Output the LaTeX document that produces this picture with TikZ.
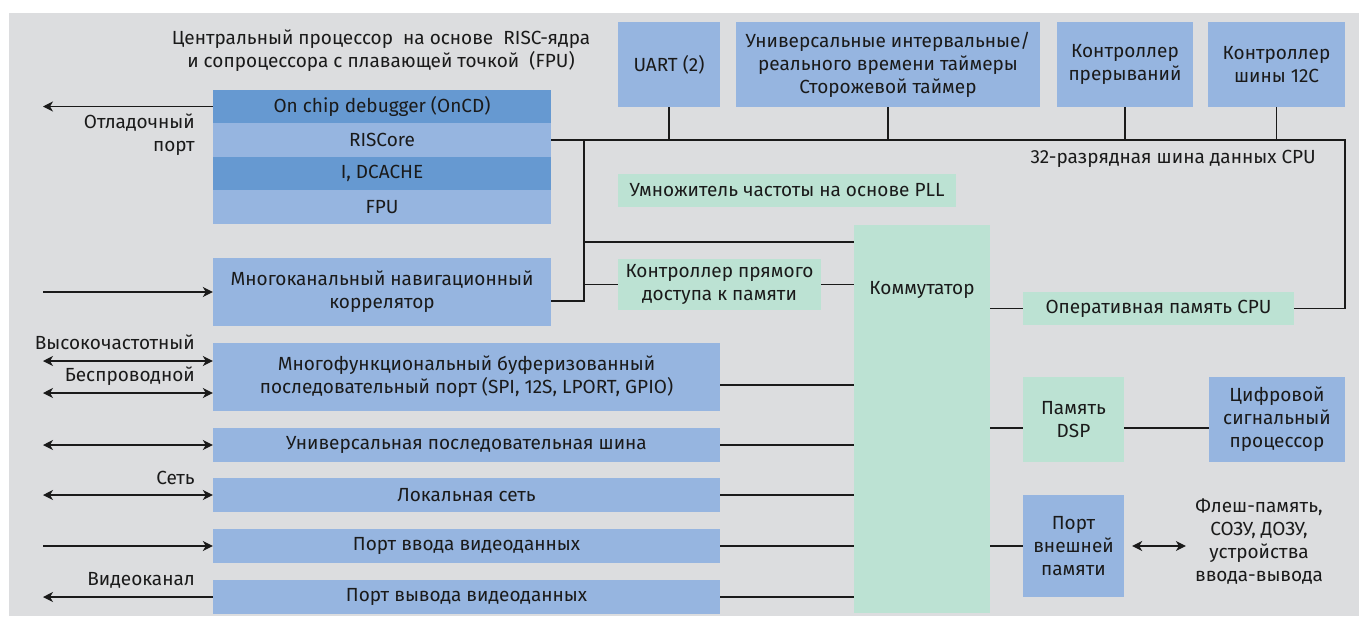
\documentclass[tikz,border=0pt]{standalone}
\usepackage{fontspec}
\setmainfont{Fira Sans}
\usetikzlibrary{arrows.meta}
\definecolor{bg}{HTML}{DCDDDF}
\definecolor{blueL}{HTML}{96B5E0}
\definecolor{blueD}{HTML}{6699D1}
\definecolor{mint}{HTML}{BCE2D3}
\definecolor{ink}{HTML}{1A1A1A}
\begin{document}
\begin{tikzpicture}[x=1pt,y=-1pt,
  blk/.style={inner sep=0pt, align=center, text=ink,
    font=\fontsize{19}{23}\selectfont},
  lb/.style={blk, fill=blueL},
  db/.style={blk, fill=blueD},
  gb/.style={blk, fill=mint},
  txt/.style={inner sep=0pt, text=ink, font=\fontsize{19}{23}\selectfont},
  wire/.style={draw=ink, line width=1.2pt},
  tipR/.style={wire, -{Stealth[length=10pt,width=10pt,inset=3pt]}},
  tipB/.style={wire, {Stealth[length=10pt,width=10pt,inset=3pt]}-{Stealth[length=10pt,width=10pt,inset=3pt]}}
]
\useasboundingbox (0,0) rectangle (1359,616);
\fill[white] (0,0) rectangle (1359,616);
\fill[bg] (9,13) rectangle (1359,616);

% CPU core stack
\node[db, minimum width=338pt, minimum height=33pt] (oncd) at (382,106.5) {On chip debugger (OnCD)};
\node[lb, minimum width=338pt, minimum height=34pt] (risc) at (382,140) {RISCore};
\node[db, minimum width=338pt, minimum height=33pt] (cache) at (382,173.5) {I, DCACHE};
\node[lb, minimum width=338pt, minimum height=34pt] (fpu) at (382,207) {FPU};
\node[txt, align=center] (title) at (381,51) {Центральный процессор\ \ на основе\ \ RISC-ядра\\и сопроцессора с плавающей точкой\ \ (FPU)};

% peripherals on the CPU bus
\node[lb, minimum width=102pt, minimum height=85pt] (uart) at (669,64.5) {UART (2)};
\node[lb, minimum width=304pt, minimum height=85pt] (timers) at (888,64.5) {Универсальные интервальные/\\реального времени таймеры\\Сторожевой таймер};
\node[lb, minimum width=136pt, minimum height=85pt] (irq) at (1125,64.5) {Контроллер\\прерываний};
\node[lb, minimum width=137pt, minimum height=85pt] (i2c) at (1276.5,64.5) {Контроллер\\шины 12C};
\node[txt, anchor=east] (buslbl) at (1316,159) {32-разрядная шина данных CPU};

\node[gb, minimum width=338pt, minimum height=33pt] (pll) at (787,190.5) {Умножитель частоты на основе PLL};
\node[gb, minimum width=136pt, minimum height=388pt,
  label={[txt, anchor=center, yshift=-65pt]north:Коммутатор}] (comm) at (922,419) {};
\node[gb, minimum width=203pt, minimum height=51pt] (dma) at (719.5,284.5) {Контроллер прямого\\доступа к памяти};
\node[lb, minimum width=338pt, minimum height=68pt] (corr) at (382,292) {Многоканальный навигационный\\коррелятор};
\node[gb, minimum width=271pt, minimum height=33pt] (ram) at (1158.5,308.5) {Оперативная память CPU};

% interface blocks
\node[lb, minimum width=507pt, minimum height=68pt] (mbsp) at (466.5,377) {Многофункциональный буферизованный\\последовательный порт (SPI, 12S, LPORT, GPIO)};
\node[lb, minimum width=507pt, minimum height=34pt] (usb) at (466.5,445) {Универсальная последовательная шина};
\node[lb, minimum width=507pt, minimum height=34pt] (lan) at (466.5,495) {Локальная сеть};
\node[lb, minimum width=507pt, minimum height=34pt] (vin) at (466.5,546) {Порт ввода видеоданных};
\node[lb, minimum width=507pt, minimum height=34pt] (vout) at (466.5,597) {Порт вывода видеоданных};

% DSP side
\node[gb, minimum width=101pt, minimum height=85pt] (dspmem) at (1073.5,419.5) {Память\\DSP};
\node[lb, minimum width=136pt, minimum height=85pt] (dsp) at (1277,419.5) {Цифровой\\сигнальный\\процессор};
\node[lb, minimum width=101pt, minimum height=102pt] (ext) at (1073.5,546) {Порт\\внешней\\памяти};
\node[txt, align=center] (flash) at (1259,542) {Флеш-память,\\СОЗУ, ДОЗУ,\\устройства\\ввода-вывода};

% left-side labels
\node[txt, anchor=east, align=right] (dbglbl) at (195,134.5) {Отладочный\\порт};
\node[txt, anchor=east] (rflbl) at (195,342) {Высокочастотный};
\node[txt, anchor=east] (wllbl) at (195,376) {Беспроводной};
\node[txt, anchor=east] (netlbl) at (195,478) {Сеть};
\node[txt, anchor=east] (vidlbl) at (195,580) {Видеоканал};

% junction points
\coordinate (busL) at (584,140);
\coordinate (busR) at (1345,140);
\coordinate (jcomm) at (584,242);
\coordinate (jcorr) at (584,301);
\coordinate (jmbsp) at (720,385);
\coordinate (jdsp) at (990,428);
\coordinate (dbgEnd) at (43,106.5);
\coordinate (corrIn) at (43,292);
\coordinate (rfEnd) at (43,361);
\coordinate (wlEnd) at (43,393);
\coordinate (usbEnd) at (43,445);
\coordinate (lanEnd) at (43,495);
\coordinate (vinEnd) at (43,546);
\coordinate (voutEnd) at (43,597);

% CPU data bus
\draw[wire] (risc.east) -- (busR) -- (busR |- ram.east) -- (ram.east);
\draw[wire] (uart.south) -- (uart.south |- busR);
\draw[wire] (timers.south) -- (timers.south |- busR);
\draw[wire] (irq.south) -- (irq.south |- busR);
\draw[wire] (i2c.south) -- (i2c.south |- busR);
\draw[wire] (busL) -- (jcorr) -- (corr.east |- jcorr);
\draw[wire] (jcomm) -- (comm.west |- jcomm);
\draw[wire] (busL |- dma.west) -- (dma.west);
\draw[wire] (dma.east) -- (comm.west |- dma.east);
\draw[wire] (comm.east |- ram.west) -- (ram.west);

% switch fabric links
\draw[wire] (jmbsp) -- (comm.west |- jmbsp);
\draw[wire] (usb.east) -- (comm.west |- usb.east);
\draw[wire] (lan.east) -- (comm.west |- lan.east);
\draw[wire] (vin.east) -- (comm.west |- vin.east);
\draw[wire] (vout.east) -- (comm.west |- vout.east);
\draw[wire] (jdsp) -- (dspmem.west |- jdsp);
\draw[wire] (dspmem.east |- jdsp) -- (dsp.west |- jdsp);
\draw[wire] (comm.east |- ext.west) -- (ext.west);
\draw[tipB] ([xshift=8pt]ext.east) -- ([xshift=-9pt]flash.west |- ext.east);

% external signals
\draw[tipR] (oncd.west) -- (dbgEnd);
\draw[tipR] (corrIn) -- (corr.west);
\draw[tipB] (rfEnd) -- (mbsp.west |- rfEnd);
\draw[tipB] (wlEnd) -- (mbsp.west |- wlEnd);
\draw[tipB] (usbEnd) -- (usb.west);
\draw[tipB] (lanEnd) -- (lan.west);
\draw[tipR] (vinEnd) -- (vin.west);
\draw[tipR] (vout.west) -- (voutEnd);
\end{tikzpicture}
\end{document}
